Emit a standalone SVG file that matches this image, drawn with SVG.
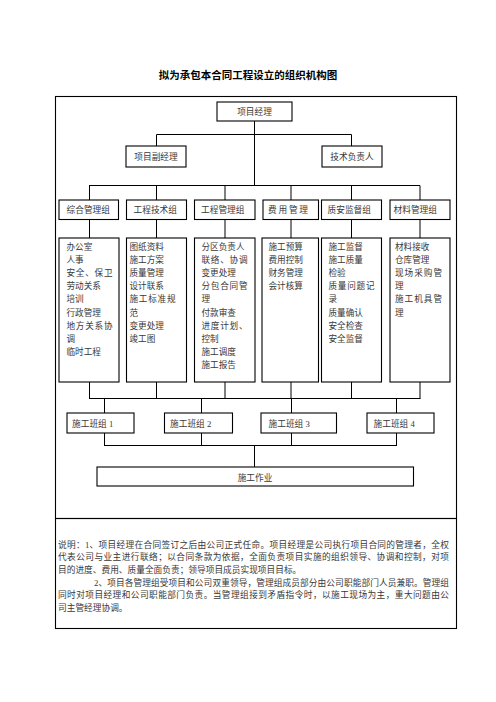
<svg xmlns="http://www.w3.org/2000/svg" width="496" height="702" viewBox="0 0 496 702">
<style>
text{font-family:"Liberation Serif","Noto Sans CJK SC",serif;fill:#383838;font-size:8.7px}
.t{font-size:10.5px;font-weight:bold;fill:#000}
.box{fill:#fff;stroke:#000;stroke-width:1.1}
.frame{fill:none;stroke:#000;stroke-width:1.1}
.c line{stroke:#000;stroke-width:1}
.m{text-anchor:middle}
.n{font-size:8.6px}
</style>
<rect width="496" height="702" fill="#fff"/>
<text class="t m" x="248" y="79">拟为承包本合同工程设立的组织机构图</text>
<rect class="frame" x="55.5" y="96.5" width="401" height="422"/>
<rect class="frame" x="55.5" y="518.5" width="401" height="110"/>
<g id="connectors" class="c">
<line x1="254.5" y1="121" x2="254.5" y2="186"/>
<line x1="156.5" y1="134.5" x2="351.5" y2="134.5"/>
<line x1="156.5" y1="134.5" x2="156.5" y2="146"/>
<line x1="351.5" y1="134.5" x2="351.5" y2="146"/>
<line x1="89" y1="185.5" x2="420" y2="185.5"/>
<line x1="89.5" y1="185.5" x2="89.5" y2="200"/>
<line x1="156.5" y1="185.5" x2="156.5" y2="200"/>
<line x1="225" y1="185.5" x2="225" y2="200"/>
<line x1="291" y1="185.5" x2="291" y2="200"/>
<line x1="351.5" y1="185.5" x2="351.5" y2="200"/>
<line x1="420" y1="185.5" x2="420" y2="200"/>
<line x1="89.5" y1="219" x2="89.5" y2="238"/>
<line x1="156.5" y1="219" x2="156.5" y2="238"/>
<line x1="225" y1="219" x2="225" y2="238"/>
<line x1="291" y1="219" x2="291" y2="238"/>
<line x1="351.5" y1="219" x2="351.5" y2="238"/>
<line x1="420" y1="219" x2="420" y2="238"/>
<line x1="89.5" y1="382" x2="89.5" y2="398.5"/>
<line x1="156.5" y1="382" x2="156.5" y2="398.5"/>
<line x1="225" y1="382" x2="225" y2="398.5"/>
<line x1="291" y1="382" x2="291" y2="398.5"/>
<line x1="351.5" y1="382" x2="351.5" y2="398.5"/>
<line x1="420" y1="382" x2="420" y2="398.5"/>
<line x1="89" y1="398.5" x2="420.5" y2="398.5"/>
<line x1="104.5" y1="398.5" x2="104.5" y2="413"/>
<line x1="201.5" y1="398.5" x2="201.5" y2="413"/>
<line x1="291.5" y1="398.5" x2="291.5" y2="413"/>
<line x1="396.5" y1="398.5" x2="396.5" y2="413"/>
<line x1="104.5" y1="433" x2="104.5" y2="445.5"/>
<line x1="201.5" y1="433" x2="201.5" y2="445.5"/>
<line x1="291.5" y1="433" x2="291.5" y2="445.5"/>
<line x1="396.5" y1="433" x2="396.5" y2="445.5"/>
<line x1="104" y1="445.5" x2="397" y2="445.5"/>
<line x1="254.5" y1="445.5" x2="254.5" y2="467"/>
</g>
<g id="pm"><rect class="box" x="217" y="102" width="75" height="19"/><text class="m" x="254.5" y="115">项目经理</text></g>
<g id="vpm"><rect class="box" x="126" y="146" width="60" height="21"/><text class="m" x="156" y="160">项目副经理</text></g>
<g id="tech"><rect class="box" x="322" y="146" width="60" height="21"/><text class="m" x="352" y="160">技术负责人</text></g>
<g id="g1"><rect class="box" x="59" y="200" width="59.5" height="19.5"/><text x="66.5" y="213">综合管理组</text></g>
<g id="g2"><rect class="box" x="126.5" y="200" width="60" height="19.5"/><text x="133.5" y="213">工程技术组</text></g>
<g id="g3"><rect class="box" x="194.5" y="200" width="60.5" height="19.5"/><text x="201" y="213">工程管理组</text></g>
<g id="g4"><rect class="box" x="263" y="200" width="55.5" height="19.5"/><text x="268" y="213" textLength="40" lengthAdjust="spacing">费用管理</text></g>
<g id="g5"><rect class="box" x="321.5" y="200" width="60" height="19.5"/><text x="327.5" y="213">质安监督组</text></g>
<g id="g6"><rect class="box" x="390" y="200" width="60" height="19.5"/><text x="393.5" y="213">材料管理组</text></g>
<g id="d1"><rect class="box" x="59" y="238" width="60" height="144"/>
<text class="n" x="66.5" y="249.5">办公室</text><text class="n" x="66.5" y="262.7">人事</text><text class="n" x="66.5" y="275.9" textLength="46" lengthAdjust="spacing">安全、保卫</text><text class="n" x="66.5" y="289.1">劳动关系</text><text class="n" x="66.5" y="302.3">培训</text><text class="n" x="66.5" y="315.5">行政管理</text><text class="n" x="66.5" y="328.7" textLength="46" lengthAdjust="spacing">地方关系协</text><text class="n" x="66.5" y="341.9">调</text><text class="n" x="66.5" y="355.1">临时工程</text></g>
<g id="d2"><rect class="box" x="126.5" y="238" width="60" height="144"/>
<text class="n" x="129.5" y="249.5">图纸资料</text><text class="n" x="129.5" y="262.7">施工方案</text><text class="n" x="129.5" y="275.9">质量管理</text><text class="n" x="129.5" y="289.1">设计联系</text><text class="n" x="129.5" y="302.3" textLength="46" lengthAdjust="spacing">施工标准规</text><text class="n" x="129.5" y="315.5">范</text><text class="n" x="129.5" y="328.7">变更处理</text><text class="n" x="129.5" y="341.9">竣工图</text></g>
<g id="d3"><rect class="box" x="194.5" y="238" width="60.5" height="144"/>
<text class="n" x="201.5" y="249.5">分区负责人</text><text class="n" x="201.5" y="262.7" textLength="46" lengthAdjust="spacing">联络、协调</text><text class="n" x="201.5" y="275.9">变更处理</text><text class="n" x="201.5" y="289.1" textLength="46" lengthAdjust="spacing">分包合同管</text><text class="n" x="201.5" y="302.3">理</text><text class="n" x="201.5" y="315.5">付款审查</text><text class="n" x="201.5" y="328.7" textLength="46" lengthAdjust="spacing">进度计划、</text><text class="n" x="201.5" y="341.9">控制</text><text class="n" x="201.5" y="355.1">施工调度</text><text class="n" x="201.5" y="368.3">施工报告</text></g>
<g id="d4"><rect class="box" x="262" y="238" width="56.5" height="144"/>
<text class="n" x="268.5" y="249.5">施工预算</text><text class="n" x="268.5" y="262.7">费用控制</text><text class="n" x="268.5" y="275.9">财务管理</text><text class="n" x="268.5" y="289.1">会计核算</text></g>
<g id="d5"><rect class="box" x="321.5" y="238" width="60" height="144"/>
<text class="n" x="328.5" y="249.5">施工监督</text><text class="n" x="328.5" y="262.7">施工质量</text><text class="n" x="328.5" y="275.9">检验</text><text class="n" x="328.5" y="289.1" textLength="46" lengthAdjust="spacing">质量问题记</text><text class="n" x="328.5" y="302.3">录</text><text class="n" x="328.5" y="315.5">质量确认</text><text class="n" x="328.5" y="328.7">安全检查</text><text class="n" x="328.5" y="341.9">安全监督</text></g>
<g id="d6"><rect class="box" x="390" y="238" width="60" height="144"/>
<text class="n" x="395" y="249.5">材料接收</text><text class="n" x="395" y="262.7">仓库管理</text><text class="n" x="395" y="275.9" textLength="47" lengthAdjust="spacing">现场采购管</text><text class="n" x="395" y="289.1">理</text><text class="n" x="395" y="302.3" textLength="47" lengthAdjust="spacing">施工机具管</text><text class="n" x="395" y="315.5">理</text></g>
<g id="t1"><rect class="box" x="67" y="413" width="67" height="20"/><text x="72" y="426.5">施工班组 1</text></g>
<g id="t2"><rect class="box" x="164.5" y="413" width="68" height="20"/><text x="170" y="426.5">施工班组 2</text></g>
<g id="t3"><rect class="box" x="261" y="413" width="75.5" height="20"/><text x="268.5" y="426.5">施工班组 3</text></g>
<g id="t4"><rect class="box" x="367" y="413" width="67" height="20"/><text x="373.5" y="426.5">施工班组 4</text></g>
<g id="work"><rect class="box" x="97" y="467" width="316.5" height="19"/><text class="m" x="255" y="480.5">施工作业</text></g>
<g id="note">
<text x="58" y="547.5" textLength="391" lengthAdjust="spacing">说明：1、项目经理在合同签订之后由公司正式任命。项目经理是公司执行项目合同的管理者，全权</text>
<text x="58" y="560.2" textLength="391" lengthAdjust="spacing">代表公司与业主进行联络；以合同条款为依据，全面负责项目实施的组织领导、协调和控制，对项</text>
<text x="58" y="572.9">目的进度、费用、质量全面负责；领导项目成员实现项目目标。</text>
<text x="94" y="585.6" textLength="355" lengthAdjust="spacing">2、项目各管理组受项目和公司双重领导，管理组成员部分由公司职能部门人员兼职。管理组</text>
<text x="58" y="598.3" textLength="391" lengthAdjust="spacing">同时对项目经理和公司职能部门负责。当管理组接到矛盾指令时，以施工现场为主，重大问题由公</text>
<text x="58" y="611">司主管经理协调。</text>
</g>
</svg>
